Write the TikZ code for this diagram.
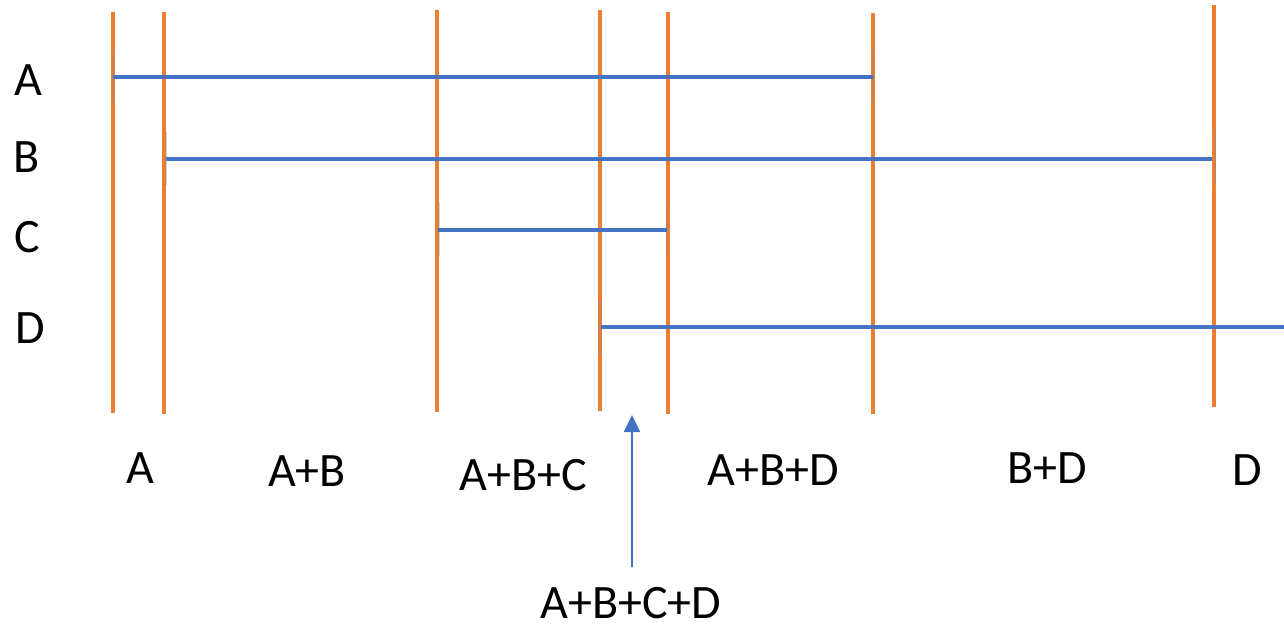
\documentclass[tikz,border=0pt]{standalone}
\usepackage{fontspec}
\setmainfont{Carlito}
\usetikzlibrary{arrows.meta}
\definecolor{accOrange}{HTML}{ED7D31}
\definecolor{accBlue}{HTML}{4472C4}
\tikzset{
  divider/.style={draw=accOrange, line width=4},
  span/.style={draw=accBlue, line width=4},
  endmark/.style={draw=black!45, line width=2.5, opacity=0.35},
  lbl/.style={anchor=base, inner sep=0, font=\fontsize{48}{54}\selectfont},
  pointer/.style={draw=accBlue, line width=2.5, -{Triangle[width=16,length=17]}}
}
\begin{document}
\begin{tikzpicture}[x=1pt,y=-1pt]
\useasboundingbox (0,0) rectangle (1284,630);

% vertical boundaries between intervals
\draw[divider] (113,12) -- (113,413);
\draw[divider] (164,12) -- (164,414);
\draw[divider] (437,10) -- (437,412);
\draw[divider] (600,10) -- (600,411);
\draw[divider] (668,12) -- (668,414);
\draw[divider] (873,13) -- (873,414);
\draw[divider] (1214,5) -- (1214,407);

% faint end marks of the spans
\draw[endmark] (113,52) -- (113,103);
\draw[endmark] (873,50) -- (873,103);
\draw[endmark] (166,132) -- (166,185);
\draw[endmark] (1215,132) -- (1215,185);
\draw[endmark] (439,202) -- (439,256);
\draw[endmark] (667,202) -- (667,256);
\draw[endmark] (600,300) -- (600,355);

% spans of A, B, C, D
\coordinate (a0) at (113,77);  \coordinate (a1) at (873,77);
\coordinate (b0) at (166,159); \coordinate (b1) at (1212,159);
\coordinate (c0) at (438,230); \coordinate (c1) at (667,230);
\coordinate (d0) at (601,327); \coordinate (d1) at (1284,327);
\draw[span] (a0) -- (a1);
\draw[span] (b0) -- (b1);
\draw[span] (c0) -- (c1);
\draw[span] (d0) -- (d1);

% row labels
\node[lbl] (la) at (28,95) {A};
\node[lbl] (lb) at (27,172) {B};
\node[lbl] (lc) at (27,252) {C};
\node[lbl] (ld) at (30,343) {D};

% interval labels
\node[lbl] (i1) at (140,483) {A};
\node[lbl] (i2) at (307,486) {A+B};
\node[lbl] (i3) at (523,490) {A+B+C};
\node[lbl] (i4) at (773,485) {A+B+D};
\node[lbl] (i5) at (1047,483) {B+D};
\node[lbl] (i6) at (1247,485) {D};
\node[lbl] (i7) at (631,618) {A+B+C+D};

% pointer to the narrow interval
\coordinate (ptip) at (632,415);
\draw[pointer] (632,567) -- (ptip);
\end{tikzpicture}
\end{document}
